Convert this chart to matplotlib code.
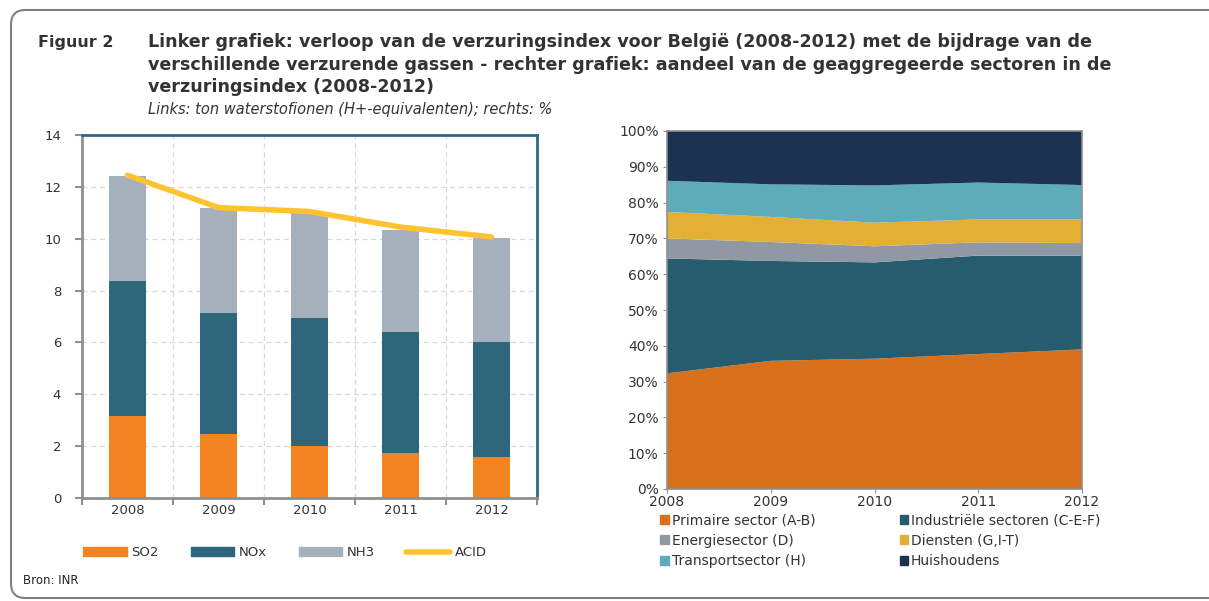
import matplotlib.pyplot as plt
import numpy
from matplotlib.patches import FancyBboxPatch, Patch
from matplotlib.lines import Line2D

plt.rcParams["font.family"] = "DejaVu Sans"

W, H = 1209, 601

# %% Data - left chart (ton H+ equivalents)
years = ["2008", "2009", "2010", "2011", "2012"]
so2 = [3.15, 2.45, 2.0, 1.75, 1.58]
nox = [5.22, 4.69, 4.94, 4.65, 4.43]
nh3 = [4.05, 4.04, 4.04, 3.93, 4.03]
acid = [12.45, 11.2, 11.05, 10.45, 10.07]

# %% Data - right chart (% share)
primaire = [32.3, 35.8, 36.4, 37.7, 39.0]
industrie = [32.1, 27.9, 26.9, 27.5, 26.2]
energie = [5.6, 5.3, 4.5, 3.7, 3.5]
diensten = [7.4, 7.0, 6.6, 6.4, 6.6]
transport = [8.7, 9.1, 10.4, 10.3, 9.6]
huishoudens = [13.9, 14.9, 15.2, 14.4, 15.1]
sector_labels = [
    "Primaire sector (A-B)",
    "Industriële sectoren (C-E-F)",
    "Energiesector (D)",
    "Diensten (G,I-T)",
    "Transportsector (H)",
    "Huishoudens",
]
sector_colors = ["#d9711c", "#275b6e", "#9099a3", "#e3b035", "#5eabba", "#1b3351"]

txt = "#333333"


def box(x0, y0, x1, y1):
    # pixel box (top-left origin) -> figure fraction rect
    return [x0 / W, 1 - y1 / H, (x1 - x0) / W, (y1 - y0) / H]


fig = plt.figure(figsize=(W / 100, H / 100), dpi=100)

# outer frame with rounded corners
frame = FancyBboxPatch(
    (11 / W, 3 / H), 1.2, 1 - 13 / H,
    boxstyle="round,pad=0,rounding_size=0.012",
    transform=fig.transFigure, fill=False, edgecolor="#808080", linewidth=1.5,
    mutation_aspect=W / H, clip_on=False,
)
fig.patches.append(frame)

# %% Header
fig.text(38 / W, 1 - 42 / H, "Figuur 2", fontsize=11.5, fontweight="bold", color=txt, va="center")
title_lines = [
    "Linker grafiek: verloop van de verzuringsindex voor België (2008-2012) met de bijdrage van de",
    "verschillende verzurende gassen - rechter grafiek: aandeel van de geaggregeerde sectoren in de",
    "verzuringsindex (2008-2012)",
]
for i, line in enumerate(title_lines):
    fig.text(148 / W, 1 - (42 + 22.5 * i) / H, line, fontsize=12.6, fontweight="bold", color=txt, va="center")
fig.text(148 / W, 1 - 109 / H, "Links: ton waterstofionen (H+-equivalenten); rechts: %",
         fontsize=10.5, style="italic", color=txt, va="center")
fig.text(23 / W, 1 - 581 / H, "Bron: INR", fontsize=8.5, color="#222222", va="center")

# %% Left chart
ax = fig.add_axes(box(82, 135, 537, 498))
x = numpy.arange(len(years))
bw = 0.4
ax.bar(x, so2, bw, color="#f28522", label="SO2", zorder=2)
ax.bar(x, nox, bw, bottom=so2, color="#2e677c", label="NOx", zorder=2)
bottom2 = [a + b for a, b in zip(so2, nox)]
ax.bar(x, nh3, bw, bottom=bottom2, color="#a6b0bc", label="NH3", zorder=2)
ax.plot(x, acid, color="#ffc332", linewidth=4, solid_capstyle="round", label="ACID", zorder=3)

ax.set_xlim(-0.5, 4.5)
ax.set_ylim(0, 14)
ax.set_yticks(range(0, 15, 2))
ax.set_xticks(x)
ax.set_xticklabels(years)
ax.set_xticks(numpy.arange(-0.5, 5, 1), minor=True)
ax.tick_params(axis="x", which="major", length=0, pad=4, labelsize=9.5, labelcolor=txt)
ax.tick_params(axis="x", which="minor", length=5, width=1.5, color="#909090", direction="out")
ax.tick_params(axis="y", length=5, width=1.5, color="#909090", labelsize=9.5, labelcolor=txt, pad=10)
ax.grid(True, which="minor", axis="x", color="#d8d8d8", linestyle=(0, (4, 3)), linewidth=0.9, zorder=0)
ax.grid(True, which="major", axis="y", color="#d8d8d8", linestyle=(0, (4, 3)), linewidth=0.9, zorder=0)
ax.grid(False, which="major", axis="x")
for s in ["left", "bottom"]:
    ax.spines[s].set_color("#909090")
    ax.spines[s].set_linewidth(2)
for s in ["top", "right"]:
    ax.spines[s].set_color("#2b6a80")
    ax.spines[s].set_linewidth(2)
ax.set_axisbelow(True)

handles = [
    Patch(color="#f28522", label="SO2"),
    Patch(color="#2e677c", label="NOx"),
    Patch(color="#a6b0bc", label="NH3"),
    Line2D([0], [0], color="#ffc332", linewidth=4, solid_capstyle="round", label="ACID"),
]
fig.legend(
    handles=handles, loc="center", bbox_to_anchor=(285 / W, 1 - 553 / H), ncol=4,
    frameon=False, fontsize=9.5, handlelength=3.3, handleheight=0.65, columnspacing=2.4,
    handletextpad=0.35, labelcolor=txt,
)

# %% Right chart
ax2 = fig.add_axes(box(667, 131, 1082, 489))
xr = [int(y) for y in years]
ax2.stackplot(xr, primaire, industrie, energie, diensten, transport, huishoudens,
              colors=sector_colors, labels=sector_labels, linewidth=0)
ax2.set_xlim(2008, 2012)
ax2.set_ylim(0, 100)
ax2.set_xticks(xr)
ax2.set_xticklabels(years)
ax2.set_yticks(range(0, 101, 10))
ax2.set_yticklabels([f"{v}%" for v in range(0, 101, 10)])
ax2.tick_params(axis="x", length=3, color="#909090", pad=1, labelsize=10, labelcolor=txt)
ax2.tick_params(axis="y", length=3, color="#909090", pad=3, labelsize=10, labelcolor=txt)
for s in ax2.spines.values():
    s.set_color("#909090")
    s.set_linewidth(1.2)

# row-major order like the original legend
order = [0, 2, 4, 1, 3, 5]
fig.legend(
    handles=[Patch(color=sector_colors[i], label=sector_labels[i]) for i in order],
    loc="upper left", bbox_to_anchor=(648 / W, 1 - 501 / H), ncol=2, frameon=False,
    fontsize=10, handlelength=0.6, handleheight=0.6, handletextpad=0.2,
    columnspacing=6.1, labelspacing=0.45, labelcolor=txt,
)

fig.savefig("out.png", dpi=100)
